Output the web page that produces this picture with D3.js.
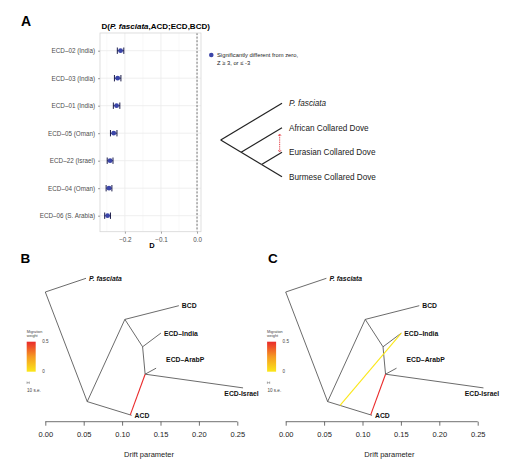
<!DOCTYPE html>
<html>
<head>
<meta charset="utf-8">
<script src="https://cdn.jsdelivr.net/npm/d3@7"></script>
<style>
  html, body { margin: 0; padding: 0; background: #fff; }
  svg { display: block; }
  text { font-family: "Liberation Sans", Arial, sans-serif; }
</style>
</head>
<body>
<svg id="chart" width="510" height="468"></svg>
<script>
// ---------- Panel A data ----------
const samples = ["ECD–02 (India)", "ECD–03 (India)", "ECD–01 (India)", "ECD–05 (Oman)", "ECD–22 (Israel)", "ECD–04 (Oman)", "ECD–06 (S. Arabia)"];
const dValues = [-0.212, -0.220, -0.223, -0.231, -0.241, -0.244, -0.248];
const dErrors = [0.009, 0.009, 0.009, 0.009, 0.008, 0.008, 0.008];
const dTicks = [-0.2, -0.1, 0.0];

// cladogram in panel A
const cladoNodes = ["root", "n2", "n3", "P. fasciata", "African Collared Dove", "Eurasian Collared Dove", "Burmese Collared Dove"];
const cladoDepth = [0, 1, 2, 3, 3, 3, 3];
const cladoRank = [1.5, 2, 2.5, 0, 1, 2, 3];
const cladoParent = [null, "root", "n2", "root", "n2", "n3", "n3"];

// ---------- Panels B & C data (TreeMix) ----------
const tmNodes = ["root", "N1", "N2", "N3", "N4", "P. fasciata", "BCD", "ECD–India", "ECD–ArabP", "ECD-Israel", "ACD"];
const tmDrift = [0, 0.0546, 0.1036, 0.1267, 0.130, 0.053, 0.1739, 0.1505, 0.1443, 0.2575, 0.1124];
const tmRank = [1.5, 5.5, 2.5, 3.5, 4.5, 1, 2, 3, 4.28, 5, 6];
const tmParent = [null, "root", "N1", "N2", "N3", "root", "N2", "N3", "N4", "N4", "N1"];
const driftTicks = [0, 0.05, 0.10, 0.15, 0.20, 0.25];

// migration edges: [from branch child, fraction along branch, to node, weight]
const migB = [["ACD", 0.97, "N4", 0.5]];
const migC = [["ACD", 0.97, "N4", 0.5], ["ACD", 0.28, "ECD–India", 0.0]];
const legendTicks = [0, 0.5];

const svg = d3.select("#chart");
svg.append("rect").attr("width", 510).attr("height", 468).attr("fill", "#fff");

// ---------- Panel letters ----------
svg.append("text").attr("x", 21).attr("y", 26).attr("font-size", 14).attr("font-weight", "bold").text("A");
svg.append("text").attr("x", 20.5).attr("y", 262.7).attr("font-size", 13.5).attr("font-weight", "bold").text("B");
svg.append("text").attr("x", 268).attr("y", 262.7).attr("font-size", 13.5).attr("font-weight", "bold").text("C");

// ---------- Panel A: D statistics ----------
const ax = d3.scaleLinear().domain([-0.269, 0.011]).range([100, 201]);
const ay = d3.scalePoint().domain(samples).range([50.7, 215.7]);
const pTop = 33, pBot = 231.7;
const gA = svg.append("g");

// grid
[-0.25, -0.15, -0.05].forEach(v => gA.append("line").attr("x1", ax(v)).attr("x2", ax(v)).attr("y1", pTop).attr("y2", pBot).attr("stroke", "#f2f2f2").attr("stroke-width", 0.5));
dTicks.forEach(v => gA.append("line").attr("x1", ax(v)).attr("x2", ax(v)).attr("y1", pTop).attr("y2", pBot).attr("stroke", "#ebebeb").attr("stroke-width", 0.8));
samples.forEach(s => gA.append("line").attr("x1", 100).attr("x2", 201).attr("y1", ay(s)).attr("y2", ay(s)).attr("stroke", "#ebebeb").attr("stroke-width", 0.8));
// zero line
gA.append("line").attr("x1", ax(0)).attr("x2", ax(0)).attr("y1", pTop).attr("y2", pBot)
  .attr("stroke", "#555").attr("stroke-width", 0.8).attr("stroke-dasharray", "2,1.6");
// border
gA.append("rect").attr("x", 100).attr("y", pTop).attr("width", 101).attr("height", pBot - pTop)
  .attr("fill", "none").attr("stroke", "#d6d6d6").attr("stroke-width", 0.8);

// error bars and points
samples.forEach((s, i) => {
  const y = ay(s), lo = ax(dValues[i] - dErrors[i]), hi = ax(dValues[i] + dErrors[i]);
  gA.append("line").attr("x1", lo).attr("x2", hi).attr("y1", y).attr("y2", y).attr("stroke", "#1c1d4a").attr("stroke-width", 1);
  [lo, hi].forEach(xx => gA.append("line").attr("x1", xx).attr("x2", xx).attr("y1", y - 3.2).attr("y2", y + 3.2).attr("stroke", "#1c1d4a").attr("stroke-width", 1));
  gA.append("circle").attr("cx", ax(dValues[i])).attr("cy", y).attr("r", 2.4).attr("fill", "#3b45a8");
});

// axes
const axB = gA.append("g").attr("transform", `translate(0,${pBot})`)
  .call(d3.axisBottom(ax).tickValues(dTicks).tickSize(2).tickFormat(d3.format(".1f")));
axB.select(".domain").remove();
axB.selectAll("line").attr("stroke", "#444").attr("stroke-width", 0.5);
axB.selectAll("text").attr("font-size", 6.3).attr("fill", "#4d4d4d").attr("font-family", "Liberation Sans, Arial, sans-serif").attr("dy", "0.9em");
const axL = gA.append("g").attr("transform", "translate(100,0)")
  .call(d3.axisLeft(ay).tickSize(2));
axL.select(".domain").remove();
axL.selectAll("line").attr("stroke", "#444").attr("stroke-width", 0.5);
axL.selectAll("text").attr("font-size", 6.3).attr("fill", "#4d4d4d").attr("font-family", "Liberation Sans, Arial, sans-serif");

gA.append("text").attr("x", 152).attr("y", 248).attr("text-anchor", "middle").attr("font-size", 7.5).attr("font-weight", "bold").text("D");

// title
const title = gA.append("text").attr("x", 155.7).attr("y", 29).attr("text-anchor", "middle").attr("font-size", 8).attr("font-weight", "bold");
title.append("tspan").text("D(");
title.append("tspan").attr("font-style", "italic").text("P. fasciata");
title.append("tspan").text(",ACD;ECD,BCD)");

// legend
gA.append("circle").attr("cx", 211.3).attr("cy", 55).attr("r", 2.3).attr("fill", "#3b45a8");
gA.append("text").attr("x", 217).attr("y", 57).attr("font-size", 5.8).attr("fill", "#222").text("Significantly different from zero,");
gA.append("text").attr("x", 217).attr("y", 64.5).attr("font-size", 5.8).attr("fill", "#222").text("Z ≥ 3, or ≤ -3");

// cladogram
const cx = d3.scaleLinear().domain([0, 3]).range([220.7, 282]);
const cy = d3.scaleLinear().domain([0, 3]).range([103.3, 176.7]);
const cIdx = n => cladoNodes.indexOf(n);
const gCl = svg.append("g");
cladoNodes.forEach((n, i) => {
  if (!cladoParent[i]) return;
  const p = cIdx(cladoParent[i]);
  gCl.append("line").attr("x1", cx(cladoDepth[p])).attr("y1", cy(cladoRank[p]))
    .attr("x2", cx(cladoDepth[i])).attr("y2", cy(cladoRank[i]))
    .attr("stroke", "#222").attr("stroke-width", 1.2);
  if (cladoDepth[i] === 3) {
    gCl.append("text").attr("x", cx(3) + 7).attr("y", cy(cladoRank[i]) + 3)
      .attr("font-family", "DejaVu Sans, Verdana, sans-serif").attr("font-size", 8.2).attr("fill", "#222")
      .attr("font-style", n === "P. fasciata" ? "italic" : "normal").text(n);
  }
});
// introgression arrow between African and Eurasian branches
(function () {
  const d = 2.9;
  const yOn = (child) => {
    const i = cIdx(child), p = cIdx(cladoParent[i]);
    const t = (d - cladoDepth[p]) / (cladoDepth[i] - cladoDepth[p]);
    return cy(cladoRank[p] + t * (cladoRank[i] - cladoRank[p]));
  };
  const y1 = yOn("African Collared Dove") + 5, y2 = yOn("Eurasian Collared Dove") - 1.5;
  const xx = cx(d) - 0.3;
  gCl.append("line").attr("x1", xx).attr("x2", xx).attr("y1", y1 + 1).attr("y2", y2 - 1)
    .attr("stroke", "#e0202a").attr("stroke-width", 0.9).attr("stroke-dasharray", "1,0.8");
  gCl.append("path").attr("d", `M${xx - 1.4},${y1 + 1.8} L${xx},${y1} L${xx + 1.4},${y1 + 1.8}`).attr("fill", "none").attr("stroke", "#e0202a").attr("stroke-width", 0.7);
  gCl.append("path").attr("d", `M${xx - 1.4},${y2 - 1.8} L${xx},${y2} L${xx + 1.4},${y2 - 1.8}`).attr("fill", "none").attr("stroke", "#e0202a").attr("stroke-width", 0.7);
})();

// ---------- Panels B & C: TreeMix ----------
const heat = d3.scaleLinear().domain([0, 0.25, 0.5]).range(["#fbe71a", "#f59a22", "#ea2a2b"]);
const defs = svg.append("defs");
const grad = defs.append("linearGradient").attr("id", "heatgrad").attr("x1", 0).attr("y1", 1).attr("x2", 0).attr("y2", 0);
[0, 0.25, 0.5].forEach(v => grad.append("stop").attr("offset", v / 0.5).attr("stop-color", heat(v)));

function drawTreemix(x0, migs) {
  const g = svg.append("g");
  const x = d3.scaleLinear().domain([0, 0.25]).range([x0, x0 + 192]);
  const y = d3.scaleLinear().domain([1, 6]).range([278.3, 415.3]);
  const idx = n => tmNodes.indexOf(n);
  // edges
  tmNodes.forEach((n, i) => {
    if (!tmParent[i]) return;
    const p = idx(tmParent[i]);
    g.append("line").attr("x1", x(tmDrift[p])).attr("y1", y(tmRank[p]))
      .attr("x2", x(tmDrift[i])).attr("y2", y(tmRank[i]))
      .attr("stroke", "#3a3a3a").attr("stroke-width", 0.75);
  });
  // migration edges
  migs.forEach(m => {
    const c = idx(m[0]), p = idx(tmParent[c]);
    const fx = tmDrift[p] + m[1] * (tmDrift[c] - tmDrift[p]);
    const fy = tmRank[p] + m[1] * (tmRank[c] - tmRank[p]);
    const t = idx(m[2]);
    g.append("line").attr("x1", x(fx)).attr("y1", y(fy)).attr("x2", x(tmDrift[t])).attr("y2", y(tmRank[t]))
      .attr("stroke", heat(m[3])).attr("stroke-width", 1.1);
  });
  // tip labels
  tmNodes.forEach((n, i) => {
    if (tmNodes[i].startsWith("N") || n === "root") return;
    const t = g.append("text").attr("font-size", 6.8).attr("font-weight", "bold").attr("fill", "#111").text(n);
    if (n === "ECD-Israel") {
      t.attr("x", x(tmDrift[i]) - 1.5).attr("y", y(tmRank[i]) + 8).attr("text-anchor", "middle");
    } else if (n === "ECD–ArabP") {
      t.attr("x", x(tmDrift[i]) + 10).attr("y", y(tmRank[i]) - 6);
    } else {
      t.attr("x", x(tmDrift[i]) + 3).attr("y", y(tmRank[i]) + 2.4);
    }
    if (n === "P. fasciata") t.attr("font-style", "italic");
  });
  // axis
  const axg = g.append("g").attr("transform", "translate(0,421.7)")
    .call(d3.axisBottom(x).tickValues(driftTicks).tickSize(4).tickFormat(d3.format(".2f")));
  axg.select(".domain").attr("stroke", "#333").attr("stroke-width", 0.7).attr("d", `M${x(0)},0H${x(0.25)}`);
  axg.selectAll("line").attr("stroke", "#333").attr("stroke-width", 0.7);
  axg.selectAll("text").attr("font-size", 7.5).attr("fill", "#222").attr("font-family", "Liberation Sans, Arial, sans-serif").attr("dy", "1.05em");
  g.append("text").attr("x", x(0.135)).attr("y", 456.5).attr("text-anchor", "middle").attr("font-size", 7.5).attr("fill", "#222").text("Drift parameter");
  // legend
  const lx = x0 - 18.6;
  const ly = d3.scaleLinear().domain(legendTicks).range([371.7, 341.7]);
  g.append("text").attr("x", lx).attr("y", 332.5).attr("font-size", 3.8).attr("fill", "#444").text("Migration");
  g.append("text").attr("x", lx).attr("y", 336.8).attr("font-size", 3.8).attr("fill", "#444").text("weight");
  g.append("rect").attr("x", lx).attr("y", ly(0.5)).attr("width", 9).attr("height", ly(0) - ly(0.5)).attr("fill", "url(#heatgrad)");
  legendTicks.forEach(v => g.append("text").attr("x", lx + 15.5).attr("y", ly(v) + 1.6).attr("font-size", 4.6).attr("fill", "#444").text(v === 0 ? "0" : "0.5"));
  // 10 s.e. bar
  g.append("line").attr("x1", lx + 0.3).attr("x2", lx + 2.6).attr("y1", 382.7).attr("y2", 382.7).attr("stroke", "#444").attr("stroke-width", 0.4);
  [lx + 0.3, lx + 2.6].forEach(xx => g.append("line").attr("x1", xx).attr("x2", xx).attr("y1", 381.5).attr("y2", 383.9).attr("stroke", "#444").attr("stroke-width", 0.4));
  g.append("text").attr("x", lx + 0.3).attr("y", 391.5).attr("font-size", 4.6).attr("fill", "#444").text("10 s.e.");
}
drawTreemix(45.3, migB);
drawTreemix(285.7, migC);
</script>
</body>
</html>
